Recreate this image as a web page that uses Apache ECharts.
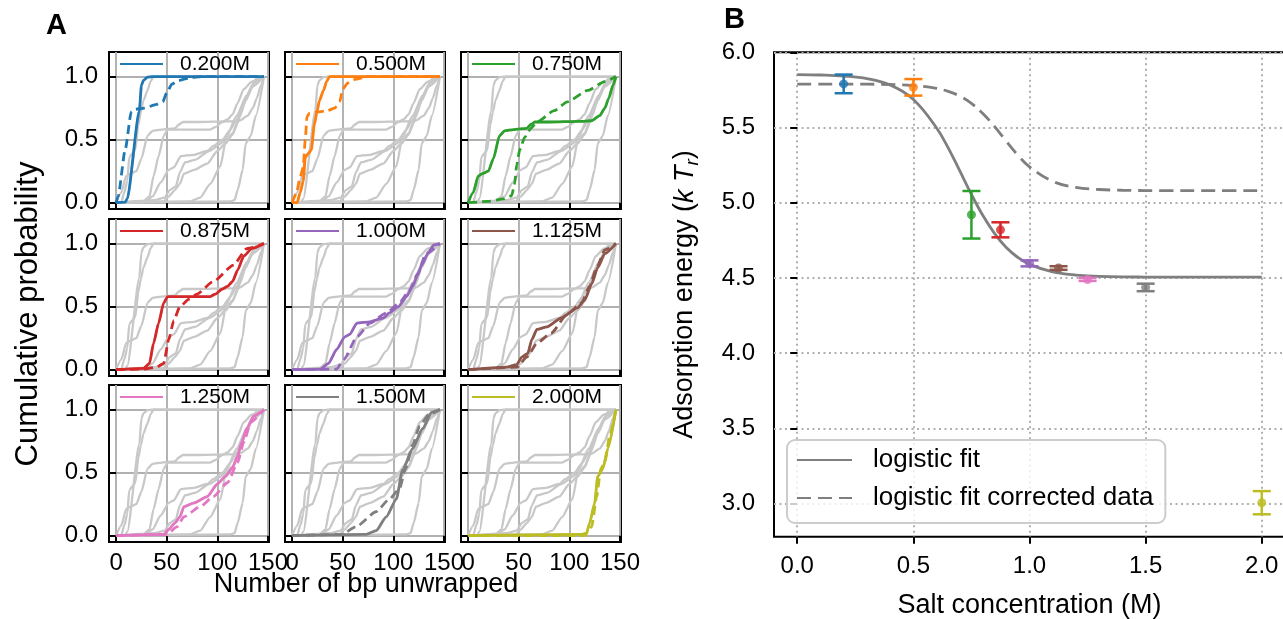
<!DOCTYPE html>
<html><head><meta charset="utf-8">
<script src="https://cdn.jsdelivr.net/npm/echarts@6/dist/echarts.min.js"></script>
<style>html,body{margin:0;padding:0;background:#fff}#c{width:1283px;height:619px}</style>
</head><body><div id="c"></div>
<script>
// ---------- DATA ----------
const concLabels = ['0.200M','0.500M','0.750M','0.875M','1.000M','1.125M','1.250M','1.500M','2.000M'];
const concColors = ['#1f77b4','#ff7f0e','#2ca02c','#d62728','#9467bd','#8c564b','#e377c2','#7f7f7f','#bcbd22'];

// cumulative probability vs number of bp unwrapped: [bp, probability]
const bp0200Solid  = [[0,0],[9,0.005],[11,0.03],[23,0.73],[25,0.93],[27,0.97],[31,0.995],[36,1.0],[146,1.0]];
const bp0200Dashed = [[0,0],[2,0.05],[9,0.42],[15,0.72],[18,0.74],[28,0.75],[40,0.78],[46,0.8],[50,0.87],[55,0.94],[62,0.97],[72,0.99],[85,1.0],[146,1.0]];
const bp0500Solid  = [[0,0],[5,0],[8,0.08],[11,0.17],[13,0.36],[16,0.39],[19,0.42],[22,0.62],[24.5,0.72],[27,0.81],[31,0.89],[34,0.96],[37,1.0],[146,1.0]];
const bp0500Dashed = [[0,0],[4,0.07],[8,0.2],[11,0.28],[13,0.5],[14.7,0.68],[17,0.71],[25,0.72],[35,0.73],[42,0.75],[47,0.8],[50,0.9],[55,0.95],[63,0.98],[75,1.0],[146,1.0]];
const bp0750Solid  = [[0,0],[5,0.08],[10,0.21],[14,0.23],[20,0.25],[25,0.35],[31,0.53],[36,0.57],[45,0.58],[58,0.59],[62,0.62],[66,0.64],[80,0.64],[110,0.645],[122,0.65],[130,0.69],[135,0.75],[139,0.83],[143,0.93],[146,1.0]];
const bp0750Dashed = [[0,0],[20,0.01],[35,0.03],[43,0.055],[46,0.15],[48,0.3],[51,0.42],[56,0.52],[62,0.59],[68,0.64],[85,0.73],[98,0.8],[118,0.89],[135,0.96],[146,1.0]];
const bp0875Solid  = [[0,0],[27,0.01],[33,0.05],[37,0.21],[42,0.37],[47,0.53],[51,0.58],[70,0.58],[93,0.58],[98,0.6],[105,0.64],[110,0.66],[115,0.7],[120,0.79],[126,0.9],[134,0.96],[146,1.0]];
const bp0875Dashed = [[0,0],[27,0.005],[40,0.02],[47,0.05],[52,0.24],[57,0.39],[63,0.5],[72,0.56],[80,0.6],[96,0.7],[116,0.83],[129,0.96],[146,1.0]];
const bp1000Solid  = [[0,0],[28,0.005],[36,0.05],[44,0.16],[52,0.26],[57,0.28],[64,0.37],[77,0.38],[90,0.41],[96,0.45],[105,0.5],[113,0.58],[119,0.66],[124,0.75],[128,0.83],[134,0.92],[140,0.99],[146,1.0]];
const bp1000Dashed = [[0,0],[44,0.005],[51,0.08],[64,0.26],[77,0.37],[93,0.45],[106,0.53],[116,0.63],[124,0.76],[132,0.92],[146,1.0]];
const bp1125Solid  = [[0,0],[38,0.02],[48,0.04],[53,0.1],[59,0.13],[63,0.24],[68,0.32],[78,0.34],[92,0.41],[108,0.49],[115,0.55],[122,0.68],[128,0.81],[135,0.92],[146,1.0]];
const bp1125Dashed = [[0,0],[48,0.02],[58,0.1],[68,0.21],[82,0.29],[98,0.44],[112,0.53],[120,0.66],[127,0.81],[135,0.95],[146,1.0]];
const bp1250Solid  = [[0,0],[47,0.01],[52,0.05],[58,0.1],[63,0.15],[67,0.23],[77,0.26],[90,0.31],[100,0.41],[108,0.47],[115,0.54],[120,0.63],[124,0.74],[129,0.85],[136,0.95],[146,1.0]];
const bp1250Dashed = [[0,0],[50,0.01],[60,0.07],[67,0.15],[83,0.23],[96,0.31],[110,0.42],[120,0.58],[126,0.74],[133,0.9],[146,1.0]];
const bp1500Solid  = [[0,0],[73,0.01],[83,0.04],[93,0.15],[103,0.29],[109,0.52],[119,0.69],[129,0.85],[138,0.98],[146,1.0]];
const bp1500Dashed = [[0,0],[49,0.01],[63,0.07],[83,0.19],[96,0.29],[106,0.37],[112,0.53],[119,0.72],[126,0.87],[135,0.96],[146,1.0]];
const bp2000Solid  = [[0,0],[112,0.01],[117,0.02],[120,0.1],[125,0.26],[128,0.47],[133,0.53],[138,0.69],[146,1.0]];
const bp2000Dashed = [[0,0],[115,0.0],[122,0.07],[127,0.31],[131,0.53],[135,0.58],[140,0.8],[146,1.0]];

const solidCurves  = [bp0200Solid,bp0500Solid,bp0750Solid,bp0875Solid,bp1000Solid,bp1125Solid,bp1250Solid,bp1500Solid,bp2000Solid];
const dashedCurves = [bp0200Dashed,bp0500Dashed,bp0750Dashed,bp0875Dashed,bp1000Dashed,bp1125Dashed,bp1250Dashed,bp1500Dashed,bp2000Dashed];
const bpTicks = [0,50,100,150];
const probTicks = [0,0.5,1.0];

// adsorption energy vs salt concentration
const saltConc  = [0.2,0.5,0.75,0.875,1.0,1.125,1.25,1.5,2.0];
const energy    = [5.79,5.767,4.92,4.82,4.597,4.566,4.49,4.437,3.006];
const energyErr = [0.062,0.055,0.158,0.05,0.02,0.012,0.01,0.025,0.077];
const fitX      = [0,0.1,0.2,0.3,0.4,0.5,0.6,0.65,0.7,0.75,0.8,0.85,0.9,0.95,1.0,1.1,1.2,1.3,1.4,1.5,1.6,1.8,2.0];
const fitLogistic  = [5.852,5.849,5.842,5.825,5.782,5.686,5.497,5.365,5.211,5.055,4.913,4.795,4.702,4.636,4.590,4.540,4.519,4.511,4.507,4.506,4.505,4.505,4.505];
const fitCorrected = [5.789,5.789,5.789,5.788,5.786,5.779,5.760,5.740,5.709,5.660,5.592,5.506,5.409,5.316,5.239,5.142,5.102,5.088,5.083,5.081,5.080,5.080,5.080];
const saltTicks = [0,0.5,1.0,1.5,2.0];
const energyTicks = [3.0,3.5,4.0,4.5,5.0,5.5,6.0];

// ---------- LAYOUT ----------
const FONT = 'Liberation Sans';
const colLeft = [109,285,461], rowTop = [52,219,385];
const cellW = 160, cellH = 157;
const grids = [], xAxes = [], yAxes = [], series = [], legends = [];
const tickStyle = {show:true, inside:false, length:7, lineStyle:{color:'#000', width:2}};

for (let i = 0; i < 9; i++) {
  const r = Math.floor(i/3), c = i%3;
  grids.push({left:colLeft[c], top:rowTop[r], width:cellW, height:cellH, show:true, outerBoundsMode:'none', containLabel:false,
    borderColor:'#000', borderWidth:2, backgroundColor:'transparent'});
  xAxes.push({type:'value', gridIndex:i, min:-7, max:151,
    axisLine:{show:false},
    axisTick:Object.assign({customValues:bpTicks}, tickStyle),
    axisLabel:{show:r===2, customValues:bpTicks, fontSize:24, color:'#000', margin:9, fontFamily:FONT},
    splitLine:{show:true, lineStyle:{color:'#b0b0b0', width:1.9}}});
  yAxes.push({type:'value', gridIndex:i, min:-0.05, max:1.195,
    axisLine:{show:false},
    axisTick:Object.assign({customValues:probTicks}, tickStyle),
    axisLabel:{show:c===0, customValues:probTicks, fontSize:24, color:'#000', margin:11, fontFamily:FONT,
      formatter:v=>v.toFixed(1)},
    splitLine:{show:true, lineStyle:{color:'#b0b0b0', width:1.9}}});
  for (let j = 0; j < 9; j++) {
    series.push({type:'line', name:'bg'+i+'_'+j, xAxisIndex:i, yAxisIndex:i, data:solidCurves[j],
      symbol:'none', silent:true, z:2, smooth:0.2, smoothMonotone:'x',
      lineStyle:{color:'#c8c8c8', width:2.3}});
  }
  series.push({type:'line', name:concLabels[i]+' corrected', xAxisIndex:i, yAxisIndex:i, data:dashedCurves[i],
    symbol:'none', z:3, smooth:0.2, smoothMonotone:'x', color:concColors[i],
    lineStyle:{color:concColors[i], width:2.8, type:[9,5]}});
  series.push({type:'line', name:concLabels[i], xAxisIndex:i, yAxisIndex:i, data:solidCurves[i],
    symbol:'none', z:4, smooth:0.2, smoothMonotone:'x', color:concColors[i],
    lineStyle:{color:concColors[i], width:2.8}});
  legends.push({data:[concLabels[i]], left:colLeft[c]+10, top:rowTop[r], padding:0,
    itemWidth:43, itemHeight:1, selectedMode:false,
    textStyle:{fontSize:21, color:'#000', fontFamily:FONT, lineHeight:24, padding:[0,0,0,12]}});
}

// right panel
grids.push({left:774, top:52.3, width:511, height:484.4, show:true, outerBoundsMode:'none', containLabel:false,
  borderColor:'#000', borderWidth:2, backgroundColor:'transparent'});
xAxes.push({type:'value', gridIndex:9, min:-0.1, max:2.1,
  axisLine:{show:false},
  axisTick:Object.assign({customValues:saltTicks}, tickStyle),
  axisLabel:{customValues:saltTicks, fontSize:24, color:'#000', margin:18, fontFamily:FONT, formatter:v=>v.toFixed(1)},
  splitLine:{show:true, lineStyle:{color:'#b0b0b0', width:2, type:[2,3.5]}},
  name:'Salt concentration (M)', nameLocation:'middle', nameGap:55,
  nameTextStyle:{fontSize:27, color:'#000', fontFamily:FONT}});
yAxes.push({type:'value', gridIndex:9, min:2.78, max:6.0,
  axisLine:{show:false},
  axisTick:Object.assign({customValues:energyTicks}, tickStyle),
  axisLabel:{customValues:energyTicks, fontSize:24, color:'#000', margin:19, fontFamily:FONT, formatter:v=>v.toFixed(1)},
  splitLine:{show:true, lineStyle:{color:'#b0b0b0', width:2, type:[2,3.5]}},
  name:'{t|Adsorption energy (}{i|k T}{s|r}{t|)}', nameLocation:'middle', nameGap:72,
  nameTextStyle:{fontSize:27, color:'#000', fontFamily:FONT, padding:[0,0,0,0],
    rich:{t:{fontSize:27, fontFamily:FONT, color:'#000', lineHeight:34, verticalAlign:'middle'},
          i:{fontSize:27, fontFamily:FONT, fontStyle:'italic', color:'#000', lineHeight:34, verticalAlign:'middle'},
          s:{fontSize:19, fontFamily:FONT, fontStyle:'italic', color:'#000', lineHeight:14, verticalAlign:'bottom'}}}});

series.push({type:'line', name:'logistic fit', xAxisIndex:9, yAxisIndex:9,
  data:fitX.map((x,k)=>[x, fitLogistic[k]]), symbol:'none', smooth:0.4, z:3, color:'#7f7f7f',
  lineStyle:{color:'#7f7f7f', width:2.8}});
series.push({type:'line', name:'logistic fit corrected data', xAxisIndex:9, yAxisIndex:9,
  data:fitX.map((x,k)=>[x, fitCorrected[k]]), symbol:'none', smooth:0.4, z:3, color:'#7f7f7f',
  lineStyle:{color:'#7f7f7f', width:2.8, type:[14,7]}});
series.push({type:'custom', name:'errors', xAxisIndex:9, yAxisIndex:9, z:4, silent:true,
  data:saltConc.map((x,k)=>[x, energy[k], energyErr[k]]),
  renderItem:(params, api)=>{
    const x = api.value(0), y = api.value(1), e = api.value(2);
    const t = api.coord([x, y+e]), b = api.coord([x, y-e]);
    const col = concColors[params.dataIndex], hw = 9;
    const st = {stroke:col, lineWidth:2.5};
    return {type:'group', children:[
      {type:'line', shape:{x1:t[0],y1:t[1],x2:b[0],y2:b[1]}, style:st},
      {type:'line', shape:{x1:t[0]-hw,y1:t[1],x2:t[0]+hw,y2:t[1]}, style:st},
      {type:'line', shape:{x1:b[0]-hw,y1:b[1],x2:b[0]+hw,y2:b[1]}, style:st}]};
  }});
series.push({type:'scatter', name:'points', xAxisIndex:9, yAxisIndex:9, z:5, symbolSize:9,
  data:saltConc.map((x,k)=>({value:[x, energy[k]], itemStyle:{color:concColors[k]}}))});

legends.push({data:['logistic fit','logistic fit corrected data'], orient:'vertical', left:787, top:440,
  padding:[5,12,10,9], itemGap:8, itemWidth:55, itemHeight:1, selectedMode:false,
  backgroundColor:'rgba(255,255,255,0.8)', borderColor:'#cccccc', borderWidth:2, borderRadius:8,
  textStyle:{fontSize:26, color:'#000', fontFamily:FONT, lineHeight:30, padding:[0,0,0,16]}});

const chart = echarts.init(document.getElementById('c'), null, {renderer:'canvas'});
chart.setOption({
  animation:false,
  textStyle:{fontFamily:FONT},
  grid:grids, xAxis:xAxes, yAxis:yAxes, series:series, legend:legends,
  graphic:[
    {type:'text', left:46, top:11, style:{text:'A', font:'bold 29px "Liberation Sans"', fill:'#000'}},
    {type:'text', left:724, top:5, style:{text:'B', font:'bold 29px "Liberation Sans"', fill:'#000'}},
    {type:'text', x:28, y:314, rotation:Math.PI/2, style:{text:'Cumulative probability', fontSize:31, fontFamily:FONT,
      fill:'#000', align:'center', verticalAlign:'middle'}},
    {type:'text', x:366, y:585, style:{text:'Number of bp unwrapped', fontSize:27, fontFamily:FONT,
      fill:'#000', align:'center', verticalAlign:'middle'}}
  ]
});
</script></body></html>
